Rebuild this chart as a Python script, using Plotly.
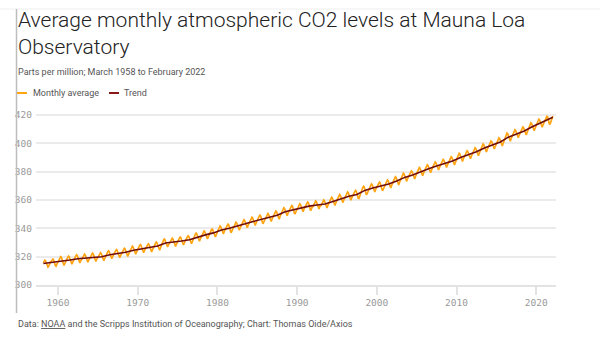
import pandas as pd
import plotly.graph_objects as go

# ---- data (ppm) ----
months = pd.date_range("1958-03-01", "2022-02-01", freq="MS")

monthly_avg = [
    315.7, 317.5, 317.5, 317.2, 315.9, 314.9, 313.2, 312.7, 313.3, 314.7,
    315.6, 316.5, 316.7, 317.7, 318.3, 318.2, 316.5, 314.8, 313.8, 313.3, 314.8, 315.6,
    316.4, 317.0, 317.6, 319.0, 320.0, 319.6, 318.2, 315.9, 314.2, 313.8, 315.0, 316.2,
    317.1, 317.8, 318.7, 319.8, 320.4, 319.9, 318.4, 316.4, 314.9, 314.7, 316.0, 317.2,
    318.0, 318.7, 319.6, 320.7, 321.3, 320.8, 319.3, 317.3, 315.8, 315.6, 316.9, 318.1,
    318.5, 319.2, 320.1, 321.2, 321.8, 321.3, 319.8, 317.8, 316.3, 316.1, 317.4, 318.6,
    319.1, 319.8, 320.7, 321.8, 322.4, 321.9, 320.4, 318.4, 316.9, 316.7, 318.0, 319.2,
    319.5, 320.2, 321.1, 322.2, 322.8, 322.3, 320.8, 318.8, 317.3, 317.1, 318.4, 319.6,
    320.9, 321.6, 322.5, 323.6, 324.2, 323.7, 322.2, 320.2, 318.7, 318.5, 319.8, 321.0,
    321.7, 322.4, 323.3, 324.4, 325.0, 324.5, 323.0, 321.0, 319.5, 319.3, 320.6, 321.8,
    322.6, 323.3, 324.2, 325.3, 325.9, 325.4, 323.9, 321.9, 320.4, 320.2, 321.5, 322.7,
    324.1, 324.8, 325.7, 326.8, 327.4, 326.9, 325.4, 323.4, 321.9, 321.7, 323.0, 324.2,
    325.2, 325.9, 326.8, 327.9, 328.5, 328.0, 326.5, 324.5, 323.0, 322.8, 324.1, 325.3,
    325.8, 326.5, 327.4, 328.5, 329.1, 328.6, 327.1, 325.1, 323.6, 323.4, 324.7, 325.9,
    327.0, 327.7, 328.6, 329.7, 330.3, 329.8, 328.3, 326.3, 324.8, 324.6, 325.9, 327.1,
    329.2, 329.9, 330.8, 331.9, 332.5, 332.0, 330.5, 328.5, 327.0, 326.8, 328.1, 329.3,
    329.7, 330.4, 331.3, 332.4, 333.0, 332.5, 331.0, 329.0, 327.5, 327.3, 328.6, 329.8,
    330.6, 331.3, 332.2, 333.3, 333.9, 333.4, 331.9, 329.9, 328.4, 328.2, 329.5, 330.7,
    331.5, 332.2, 333.1, 334.2, 334.8, 334.3, 332.8, 330.8, 329.3, 329.1, 330.4, 331.6,
    333.3, 334.0, 334.9, 336.0, 336.6, 336.1, 334.6, 332.6, 331.1, 330.9, 332.2, 333.4,
    334.9, 335.6, 336.5, 337.6, 338.2, 337.7, 336.2, 334.2, 332.7, 332.5, 333.8, 335.0,
    336.3, 337.0, 337.9, 339.0, 339.6, 339.1, 337.6, 335.6, 334.1, 333.9, 335.2, 336.4,
    337.8, 338.6, 339.7, 341.0, 341.7, 341.2, 339.7, 337.6, 336.1, 336.0, 337.5, 338.7,
    339.1, 339.9, 341.0, 342.3, 343.0, 342.5, 341.0, 338.9, 337.4, 337.3, 338.8, 340.0,
    340.5, 341.3, 342.4, 343.7, 344.4, 343.9, 342.4, 340.3, 338.8, 338.7, 340.2, 341.4,
    342.2, 343.0, 344.1, 345.4, 346.1, 345.6, 344.1, 342.0, 340.5, 340.4, 341.9, 343.1,
    343.9, 344.7, 345.8, 347.1, 347.8, 347.3, 345.8, 343.7, 342.2, 342.1, 343.6, 344.8,
    345.4, 346.2, 347.3, 348.6, 349.3, 348.8, 347.3, 345.2, 343.7, 343.6, 345.1, 346.3,
    346.6, 347.4, 348.5, 349.8, 350.5, 350.0, 348.5, 346.4, 344.9, 344.8, 346.3, 347.5,
    348.3, 349.1, 350.2, 351.5, 352.2, 351.7, 350.2, 348.1, 346.6, 346.5, 348.0, 349.2,
    350.7, 351.5, 352.6, 353.9, 354.6, 354.1, 352.6, 350.5, 349.0, 348.9, 350.4, 351.6,
    352.2, 353.0, 354.1, 355.4, 356.1, 355.6, 354.1, 352.0, 350.5, 350.4, 351.9, 353.1,
    353.5, 354.3, 355.4, 356.7, 357.4, 356.9, 355.4, 353.3, 351.8, 351.7, 353.2, 354.4,
    354.7, 355.5, 356.6, 357.9, 358.6, 358.1, 356.6, 354.5, 353.0, 352.9, 354.4, 355.6,
    355.5, 356.3, 357.4, 358.7, 359.4, 358.9, 357.4, 355.3, 353.8, 353.7, 355.2, 356.4,
    356.2, 357.0, 358.1, 359.4, 360.1, 359.6, 358.1, 356.0, 354.5, 354.4, 355.9, 357.1,
    358.0, 358.8, 359.9, 361.2, 361.9, 361.4, 359.9, 357.8, 356.3, 356.2, 357.7, 358.9,
    360.0, 360.8, 361.9, 363.2, 363.9, 363.4, 361.9, 359.8, 358.3, 358.2, 359.7, 360.9,
    361.7, 362.5, 363.6, 364.9, 365.6, 365.1, 363.6, 361.5, 360.0, 359.9, 361.4, 362.6,
    362.9, 363.7, 364.8, 366.1, 366.8, 366.3, 364.8, 362.7, 361.2, 361.1, 362.6, 363.8,
    365.8, 366.6, 367.7, 369.0, 369.7, 369.2, 367.7, 365.6, 364.1, 364.0, 365.5, 366.7,
    367.5, 368.3, 369.4, 370.7, 371.4, 370.9, 369.4, 367.3, 365.8, 365.7, 367.2, 368.4,
    368.7, 369.5, 370.6, 371.9, 372.6, 372.1, 370.6, 368.5, 367.0, 366.9, 368.4, 369.6,
    370.3, 371.1, 372.2, 373.5, 374.2, 373.7, 372.2, 370.1, 368.6, 368.5, 370.0, 371.2,
    372.5, 373.3, 374.4, 375.7, 376.4, 375.9, 374.4, 372.3, 370.8, 370.7, 372.2, 373.4,
    375.0, 375.8, 376.9, 378.2, 378.9, 378.4, 376.9, 374.8, 373.3, 373.2, 374.7, 375.9,
    376.7, 377.5, 378.6, 379.9, 380.6, 380.1, 378.6, 376.5, 375.0, 374.9, 376.4, 377.6,
    379.0, 379.8, 380.9, 382.2, 382.9, 382.4, 380.9, 378.8, 377.3, 377.2, 378.7, 379.9,
    381.1, 381.9, 383.0, 384.3, 385.0, 384.5, 383.0, 380.9, 379.4, 379.3, 380.8, 382.0,
    383.0, 383.8, 384.9, 386.2, 386.9, 386.4, 384.9, 382.8, 381.3, 381.2, 382.7, 383.9,
    384.8, 385.6, 386.7, 388.0, 388.7, 388.2, 386.7, 384.6, 383.1, 383.0, 384.5, 385.7,
    386.6, 387.4, 388.5, 389.8, 390.5, 390.0, 388.5, 386.4, 384.9, 384.8, 386.3, 387.5,
    389.1, 389.9, 391.0, 392.3, 393.0, 392.5, 391.0, 388.9, 387.4, 387.3, 388.8, 390.0,
    390.9, 391.7, 392.8, 394.1, 394.8, 394.3, 392.8, 390.7, 389.2, 389.1, 390.6, 391.8,
    393.1, 393.9, 395.0, 396.3, 397.0, 396.5, 395.0, 392.9, 391.4, 391.3, 392.8, 394.0,
    395.7, 396.5, 397.6, 398.9, 399.6, 399.1, 397.6, 395.5, 394.0, 393.9, 395.4, 396.6,
    397.8, 398.6, 399.7, 401.0, 401.7, 401.2, 399.7, 397.6, 396.1, 396.0, 397.5, 398.7,
    400.0, 400.8, 401.9, 403.2, 403.9, 403.4, 401.9, 399.8, 398.3, 398.2, 399.7, 400.9,
    403.4, 404.2, 405.3, 406.6, 407.3, 406.8, 405.3, 403.2, 401.7, 401.6, 403.1, 404.3,
    405.8, 406.6, 407.7, 409.0, 409.7, 409.2, 407.7, 405.6, 404.1, 404.0, 405.5, 406.7,
    407.7, 408.5, 409.6, 410.9, 411.6, 411.1, 409.6, 407.5, 406.0, 405.9, 407.4, 408.6,
    410.7, 411.5, 412.6, 413.9, 414.6, 414.1, 412.6, 410.5, 409.0, 408.9, 410.4, 411.6,
    413.2, 414.0, 415.1, 416.4, 417.1, 416.6, 415.1, 413.0, 411.5, 411.4, 412.9, 414.1,
    415.5, 416.8, 417.6, 419.1, 419.1, 418.9, 417.0, 414.5, 413.3, 413.9, 415.0, 416.7,
    418.2, 419.3,
]

trend_dates = (["1958-03-01"] + [f"{y}-07-01" for y in range(1959, 2022)] + ["2022-02-01"])
trend = [
    315.2,
    316.0, 316.9, 317.6, 318.5, 319.0, 319.6, 320.0, 321.4, 322.2, 323.1,
    324.6, 325.7, 326.3, 327.5, 329.7, 330.2, 331.1, 332.0, 333.8, 335.4,
    336.8, 338.8, 340.1, 341.5, 343.2, 344.9, 346.4, 347.6, 349.3, 351.7,
    353.2, 354.5, 355.7, 356.5, 357.2, 359.0, 361.0, 362.7, 363.9, 366.8,
    368.5, 369.7, 371.3, 373.5, 376.0, 377.7, 380.0, 382.1, 384.0, 385.8,
    387.6, 390.1, 391.9, 394.1, 396.7, 398.8, 401.0, 404.4, 406.8, 408.7,
    411.7, 414.2, 416.5,
    418.4,
]

year_ticks = [1960, 1970, 1980, 1990, 2000, 2010, 2020]
ppm_ticks = [300, 320, 340, 360, 380, 400, 420]

assert len(monthly_avg) == len(months)
assert len(trend) == len(trend_dates)

ORANGE = "#FFA514"
TREND = "#6e0d0d"
TXT = "#555555"
SANS = "Roboto, 'Noto Sans', sans-serif"
MONO = "'DejaVu Sans Mono', monospace"

fig = go.Figure()
fig.add_trace(go.Scatter(x=months, y=monthly_avg, mode="lines", name="Monthly average",
                         line=dict(color=ORANGE, width=1.7), showlegend=False))
fig.add_trace(go.Scatter(x=pd.to_datetime(trend_dates), y=trend, mode="lines", name="Trend",
                         line=dict(color=TREND, width=1.6), showlegend=False))

# pixel helpers: plot area x 36..556, y 108..285
L, R, T, B = 36, 44, 108, 62
PW, PH = 600 - L - R, 347 - T - B
def px(x):
    return (x - L) / PW
def py(y):
    return (347 - B - y) / PH

fig.update_layout(
    width=600, height=347, autosize=False,
    margin=dict(l=L, r=R, t=T, b=B),
    paper_bgcolor="white", plot_bgcolor="white",
    xaxis=dict(
        type="date",
        range=["1957-03-28", "2022-06-25"],
        tickvals=[f"{y}-01-01" for y in year_ticks],
        ticktext=[str(y) for y in year_ticks],
        showgrid=False, ticks="outside", ticklen=8, tickcolor="#e3e3e3", tickwidth=1.5,
        showline=True, linecolor="#e3e3e3", linewidth=1.5,
        tickfont=dict(family=MONO, size=9.5, color="#9a9a9a"),
        zeroline=False, fixedrange=True,
    ),
    yaxis=dict(
        range=[300, 425],
        tickvals=ppm_ticks,
        showgrid=True, gridcolor="#ebebeb", gridwidth=1.5,
        ticks="", ticklabelstandoff=3,
        tickfont=dict(family=MONO, size=9.5, color="#9a9a9a"),
        zeroline=False, showline=False, fixedrange=True,
    ),
)

# faint top rule and left rule
fig.add_shape(type="line", xref="paper", yref="paper",
              x0=px(0), x1=px(600), y0=py(9), y1=py(9),
              line=dict(color="#efefef", width=1))
fig.add_shape(type="line", xref="paper", yref="paper",
              x0=px(16.5), x1=px(16.5), y0=py(9), y1=py(313),
              line=dict(color="#bdbdbd", width=1.5))

# title
fig.add_annotation(xref="paper", yref="paper", x=px(16), y=py(6), xanchor="left", yanchor="top",
                   showarrow=False, align="left",
                   text="Average monthly atmospheric CO2 levels at Mauna Loa<br>Observatory",
                   font=dict(family=SANS, size=21, color="#222222", weight=300))
# subtitle
fig.add_annotation(xref="paper", yref="paper", x=px(16), y=py(72), xanchor="left", yanchor="middle",
                   showarrow=False, align="left",
                   text="Parts per million; March 1958 to February 2022",
                   font=dict(family=SANS, size=9, color=TXT))
# legend
fig.add_shape(type="line", xref="paper", yref="paper", x0=px(17), x1=px(27), y0=py(93), y1=py(93),
              line=dict(color=ORANGE, width=2))
fig.add_annotation(xref="paper", yref="paper", x=px(30.5), y=py(93), xanchor="left", yanchor="middle",
                   showarrow=False, text="Monthly average", font=dict(family=SANS, size=9, color=TXT))
fig.add_shape(type="line", xref="paper", yref="paper", x0=px(109), x1=px(119), y0=py(93), y1=py(93),
              line=dict(color="#8a1a1a", width=2))
fig.add_annotation(xref="paper", yref="paper", x=px(121.5), y=py(93), xanchor="left", yanchor="middle",
                   showarrow=False, text="Trend", font=dict(family=SANS, size=9, color=TXT))
# footer
fig.add_annotation(xref="paper", yref="paper", x=px(16), y=py(324), xanchor="left", yanchor="middle",
                   showarrow=False, align="left",
                   text="Data: <span style='text-decoration:underline'>NOAA</span> and the Scripps Institution of Oceanography; Chart: Thomas Oide/Axios",
                   font=dict(family=SANS, size=9, color=TXT))

fig.write_html("out.html")
